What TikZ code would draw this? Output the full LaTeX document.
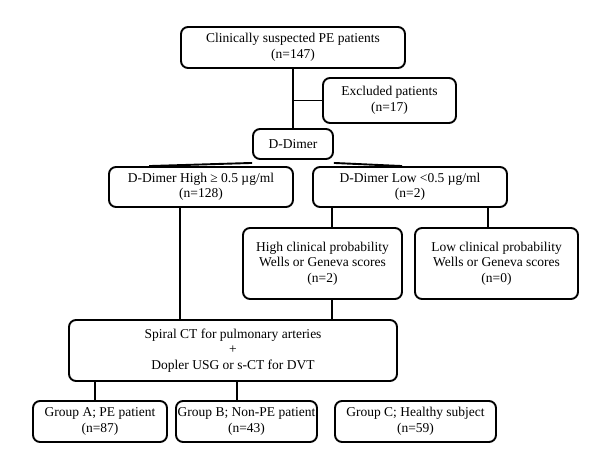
\documentclass[tikz,border=0pt]{standalone}
\usepackage{fontspec}
\setmainfont{Liberation Serif}
\begin{document}
\begin{tikzpicture}[x=1pt,y=-1pt,
  box/.style={draw, line width=1.9pt, rounded corners=7pt, align=center, inner sep=0pt, font=\fontsize{13.5}{15.5}\selectfont},
  conn/.style={line width=1.9pt}]
\useasboundingbox[fill=white] (0,0) rectangle (600,470);
\node[box, minimum width=224, minimum height=41] (b1) at (293,47.5) {Clinically suspected PE patients\\(n=147)};
\node[box, minimum width=133, minimum height=45] (ex) at (389.5,100.5) {Excluded patients\\(n=17)};
\node[box, minimum width=80, minimum height=30] (dd) at (293,144) {D-Dimer};
\node[box, minimum width=184, minimum height=40] (hi) at (201,187) {D-Dimer High ≥ 0.5 µg/ml\\(n=128)};
\node[box, minimum width=194, minimum height=40] (lo) at (410,187) {D-Dimer Low <0.5 µg/ml\\(n=2)};
\node[box, minimum width=159, minimum height=71] (hc) at (322.5,263.5) {High clinical probability\\Wells or Geneva scores\\(n=2)};
\node[box, minimum width=163, minimum height=71] (lc) at (496.5,263.5) {Low clinical probability\\Wells or Geneva scores\\(n=0)};
\node[box, minimum width=328, minimum height=61] (sp) at (233,350.5) {Spiral CT for pulmonary arteries\\+\\Dopler USG or s-CT for DVT};
\node[box, minimum width=134, minimum height=41] (ga) at (100,421.5) {Group A; PE patient\\(n=87)};
\node[box, minimum width=141, minimum height=41] (gb) at (246.5,421.5) {Group B; Non-PE patient\\(n=43)};
\node[box, minimum width=161, minimum height=41] (gc) at (415.5,421.5) {Group C; Healthy subject\\(n=59)};
% connectors
\draw[conn] (b1.south) -- (dd.north);
\draw[conn] (b1.south |- ex.west) -- (ex.west);
\draw[conn] ([yshift=-3]dd.south west) -- ([xshift=41]hi.north west);
\draw[conn] ([yshift=-3]dd.south east) -- ([xshift=90]lo.north west);
\coordinate (hiS) at ([xshift=72]hi.south west);
\draw[conn] (hiS) -- (hiS |- sp.north);
\coordinate (loL) at ([xshift=20]lo.south west);
\draw[conn] (loL) -- (loL |- hc.north);
\coordinate (loR) at ([xshift=-20]lo.south east);
\draw[conn] (loR) -- (loR |- lc.north);
\coordinate (hcS) at (loL |- hc.south);
\draw[conn] (hcS) -- (hcS |- sp.north);
\coordinate (spA) at ([xshift=27]sp.south west);
\draw[conn] (spA) -- (spA |- ga.north);
\coordinate (spB) at ([xshift=169]sp.south west);
\draw[conn] (spB) -- (spB |- gb.north);
\end{tikzpicture}
\end{document}
